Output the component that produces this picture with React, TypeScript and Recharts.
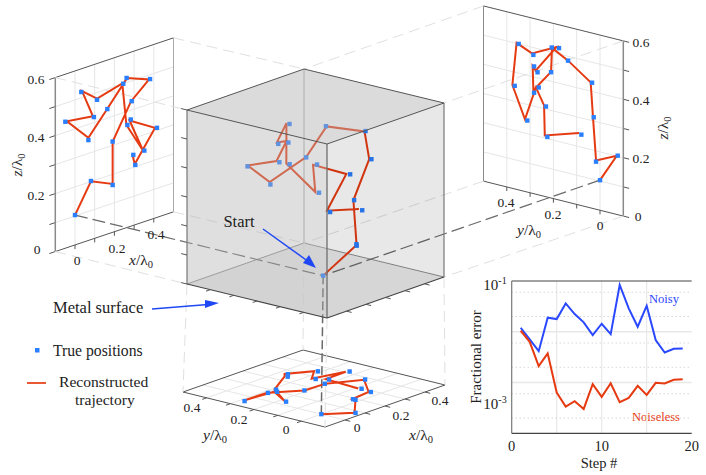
import React from 'react';
import {
  ScatterChart, Scatter, XAxis, YAxis, ReferenceLine,
  LineChart, Line, CartesianGrid,
} from 'recharts';

// positions in units of lambda0, step order
const xTrue = [0, 0.081, 0.191, 0.191, 0.288, 0.381, 0.262, 0.164, 0.068, -0.049, 0.096, 0.032, 0.112, 0.245, 0.266, 0.352, 0.283, 0.416, 0.306, 0.296];
const yTrue = [0, -0.076, 0.017, 0.027, 0.034, 0.137, 0.207, 0.21, 0.283, 0.283, 0.268, 0.176, 0.286, 0.349, 0.366, 0.312, 0.263, 0.232, 0.226, 0.08];
const zTrue = [0.103, 0.202, 0.163, 0.313, 0.43, 0.485, 0.516, 0.431, 0.346, 0.436, 0.419, 0.52, 0.475, 0.5, 0.353, 0.245, 0.368, 0.309, 0.206, 0.243];
const xRec = [0, 0.081, 0.191, 0.191, 0.284, 0.376, 0.264, 0.164, 0.068, -0.041, 0.091, 0.036, 0.112, 0.24, 0.261, 0.345, 0.277, 0.406, 0.303, 0.291];
const yRec = [0, -0.072, 0.017, 0.03, 0.04, 0.137, 0.206, 0.21, 0.286, 0.289, 0.276, 0.187, 0.292, 0.358, 0.376, 0.322, 0.275, 0.24, 0.237, 0.09];
const zRec = [0.103, 0.201, 0.167, 0.312, 0.43, 0.485, 0.515, 0.432, 0.354, 0.436, 0.423, 0.522, 0.479, 0.502, 0.354, 0.247, 0.366, 0.311, 0.209, 0.247];

const steps = [1, 2, 3, 4, 5, 6, 7, 8, 9, 10, 11, 12, 13, 14, 15, 16, 17, 18, 19];
const noisy = [0.012, 0.00706, 0.00415, 0.0189, 0.0178, 0.0362, 0.0223, 0.0153, 0.0086, 0.0144, 0.009, 0.0834, 0.0289, 0.01256, 0.0326, 0.00685, 0.00391, 0.00461, 0.00469];
const noiseless = [0.01047, 0.00635, 0.0021, 0.00373, 0.000635, 0.000336, 0.000428, 0.000302, 0.000927, 0.000521, 0.00097, 0.000409, 0.000498, 0.000859, 0.000571, 0.000985, 0.000955, 0.00113, 0.00116];

const errorData = steps.map((step, i) => ({ step, noisy: noisy[i], noiseless: noiseless[i] }));
const majorDecades = [0.01, 0.001];
const minorDecades = [0.09, 0.08, 0.07, 0.06, 0.05, 0.04, 0.03, 0.02, 0.009, 0.008, 0.007, 0.006, 0.005, 0.004, 0.003, 0.002, 0.0009, 0.0008, 0.0007, 0.0006, 0.0005, 0.0004, 0.0003, 0.0002];

const planeGrid = [0, 0.1, 0.2, 0.3, 0.4];
const heightGrid = [0.1, 0.2, 0.3, 0.4, 0.5];
const LO = -0.1;
const HI = 0.5;
const TOP = 0.6;

const RED = '#e63b12';
const DOT = '#2a7fff';
const SERIF = '"Liberation Serif", serif';

type Pt = { x: number; y: number };

// the four views of the same 3D positions
const leftWall = (x: number, z: number): Pt => {
  const px = 75 + 197 * x;
  return { x: px, y: 252 - 290 * z - 0.336 * (px - 54) };
};
const rightWall = (y: number, z: number): Pt => {
  const px = 600 - 233 * y;
  return { x: px, y: 216 - 292 * z - 0.25 * (623 - px) };
};
const floor = (x: number, y: number): Pt => ({
  x: 325 + ((x + 0.1) / 0.6) * 120 - ((y + 0.1) / 0.6) * 142,
  y: 427 - ((x + 0.1) / 0.6) * 42 - ((y + 0.1) / 0.6) * 35,
});
const cube = (x: number, y: number, z: number): Pt => ({
  x: 327 + ((x + 0.1) / 0.6) * 117 - ((y + 0.1) / 0.6) * 140,
  y: 318 - ((x + 0.1) / 0.6) * 41 - ((y + 0.1) / 0.6) * 34 - (z / 0.6) * 174,
});

const views = [
  { name: 'left', at: (x: number, y: number, z: number) => leftWall(x, z) },
  { name: 'right', at: (x: number, y: number, z: number) => rightWall(y, z) },
  { name: 'floor', at: (x: number, y: number, z: number) => floor(x, y) },
  { name: 'cube', at: cube },
];

type Seg = { a: Pt; b: Pt; stroke: string; w?: number; dash?: string };

const FRAME = '#555';
const AXIS = '#8a8a8a';
const GRID = '#e6e6e6';
const FAINT = '#e0e0e0';
const DARKDASH = '#6a6a6a';
const DASH = '11 6';

function wallSegs(): Seg[] {
  const s: Seg[] = [];
  const add = (a: Pt, b: Pt, stroke: string, w = 1, dash?: string) => s.push({ a, b, stroke, w, dash });

  // left wall
  planeGrid.forEach((v) => {
    add(leftWall(v, 0), leftWall(v, TOP), GRID);
    add(leftWall(v, 0), leftWall(v, -0.014), FRAME);
  });
  heightGrid.forEach((v) => add(leftWall(LO, v), leftWall(HI, v), GRID));
  [0, ...heightGrid, TOP].forEach((v) => add(leftWall(LO, v), leftWall(-0.13, v), FRAME));
  add(leftWall(LO, 0), leftWall(HI, 0), FRAME);
  add(leftWall(LO, TOP), leftWall(HI, TOP), FRAME);
  add(leftWall(LO, 0), leftWall(LO, TOP), AXIS, 1.5);
  add(leftWall(HI, 0), leftWall(HI, TOP), '#aaa');

  // right wall
  planeGrid.forEach((v) => {
    add(rightWall(v, 0), rightWall(v, TOP), GRID);
    add(rightWall(v, 0), rightWall(v, -0.014), FRAME);
  });
  heightGrid.forEach((v) => add(rightWall(LO, v), rightWall(HI, v), GRID));
  [0, ...heightGrid, TOP].forEach((v) => add(rightWall(LO, v), rightWall(-0.125, v), FRAME));
  add(rightWall(LO, 0), rightWall(HI, 0), FRAME);
  add(rightWall(LO, TOP), rightWall(HI, TOP), FRAME);
  add(rightWall(LO, 0), rightWall(LO, TOP), AXIS, 1.5);
  add(rightWall(HI, 0), rightWall(HI, TOP), AXIS);

  // floor
  planeGrid.forEach((v) => {
    add(floor(v, LO), floor(v, HI), GRID);
    add(floor(LO, v), floor(HI, v), GRID);
    add(floor(v, LO), floor(v, -0.122), FRAME);
    add(floor(LO, v), floor(-0.122, v), FRAME);
  });
  add(floor(LO, LO), floor(HI, LO), FRAME);
  add(floor(LO, LO), floor(LO, HI), FRAME);
  add(floor(HI, LO), floor(HI, HI), FRAME);
  add(floor(LO, HI), floor(HI, HI), FRAME);

  // back edges of the box
  add(cube(HI, HI, 0), cube(HI, HI, TOP), '#aaa');
  add(cube(HI, HI, 0), cube(HI, LO, 0), '#8f8f8f');
  add(cube(HI, HI, 0), cube(LO, HI, 0), '#8f8f8f');

  // light guides between the walls, the floor and the box
  add(leftWall(LO, TOP), cube(LO, HI, TOP), FAINT, 1, DASH);
  add(leftWall(LO, 0), cube(LO, HI, 0), FAINT, 1, DASH);
  add(leftWall(HI, TOP), cube(HI, HI, TOP), FAINT, 1, DASH);
  add(leftWall(HI, 0), cube(HI, HI, 0), FAINT, 1, DASH);
  add(rightWall(LO, TOP), cube(HI, LO, TOP), FAINT, 1, DASH);
  add(rightWall(LO, 0), cube(HI, LO, 0), FAINT, 1, DASH);
  add(rightWall(HI, TOP), cube(HI, HI, TOP), FAINT, 1, DASH);
  add(rightWall(HI, 0), cube(HI, HI, 0), FAINT, 1, DASH);
  add(cube(LO, HI, 0), floor(LO, HI), FAINT, 1, DASH);
  add(cube(HI, LO, 0), floor(HI, LO), FAINT, 1, DASH);
  add(cube(LO, LO, 0), floor(LO, LO), FAINT, 1, DASH);
  add(cube(HI, HI, 0), floor(HI, HI), FAINT, 1, DASH);

  // dark guides from the start position
  const start = cube(xTrue[0], yTrue[0], zTrue[0]);
  add(leftWall(xTrue[0], zTrue[0]), start, DARKDASH, 1.2, '13 5');
  add(rightWall(yTrue[0], zTrue[0]), start, DARKDASH, 1.2, '13 5');
  add(floor(xTrue[0], yTrue[0]), start, DARKDASH, 1.5, '9 4');
  return s;
}

function boxFrontSegs(): Seg[] {
  const s: Seg[] = [];
  const add = (a: Pt, b: Pt, stroke = FRAME, w = 1) => s.push({ a, b, stroke, w });
  add(cube(LO, LO, 0), cube(LO, LO, TOP), '#6e6e6e', 1.3);
  add(cube(LO, HI, 0), cube(LO, HI, TOP), '#777', 1.2);
  add(cube(HI, LO, 0), cube(HI, LO, TOP), '#777', 1.2);
  add(cube(LO, LO, 0), cube(HI, LO, 0), '#444', 1.2);
  add(cube(LO, LO, 0), cube(LO, HI, 0), '#444', 1.2);
  add(cube(LO, LO, TOP), cube(HI, LO, TOP));
  add(cube(LO, LO, TOP), cube(LO, HI, TOP));
  add(cube(HI, HI, TOP), cube(HI, LO, TOP));
  add(cube(HI, HI, TOP), cube(LO, HI, TOP));
  planeGrid.forEach((v) => {
    add(cube(v, LO, 0), cube(v, -0.122, 0));
    add(cube(LO, v, 0), cube(-0.122, v, 0));
  });
  heightGrid.forEach((v) => add(cube(LO, HI, v), cube(LO, 0.525, v)));
  add(cube(LO, HI, TOP), cube(LO, 0.525, TOP));
  add(cube(LO, HI, 0), cube(LO, 0.525, 0));
  return s;
}

const pts = (pp: Pt[]) => pp.map((p) => `${p.x},${p.y}`).join(' ');

const layer: React.CSSProperties = { position: 'absolute', left: 0, top: 0 };

function Txt({ x, y, size = 13, anchor = 'middle', color = '#222', children, rot }: any) {
  return (
    <text
      x={x}
      y={y}
      fontSize={size}
      fontFamily={SERIF}
      textAnchor={anchor}
      fill={color}
      transform={rot ? `rotate(${rot} ${x} ${y})` : undefined}
    >
      {children}
    </text>
  );
}

function Unit({ x, y, v, rot }: { x: number; y: number; v: string; rot?: number }) {
  return (
    <Txt x={x} y={y} size={15.5} rot={rot}>
      <tspan fontStyle="italic">{v}</tspan>/λ<tspan fontSize={10.5} dy={2.5}>0</tspan>
    </Txt>
  );
}

function ErrorTick({ y, payload }: any) {
  const shift = payload.value > 0.05 ? 9 : 26;
  const exp = payload.value > 0.05 ? '-1' : '-3';
  return (
    <text x={36.7} y={y + shift} textAnchor="end" fontSize={15} fontFamily={SERIF} fill="#222">
      10<tspan fontSize={10} dy={-6}>{exp}</tspan>
    </text>
  );
}

const Square = ({ cx, cy }: any) => <rect x={cx - 2.2} y={cy - 2.2} width={4.4} height={4.4} fill={DOT} />;

function Views() {
  return (
    <ScatterChart width={706} height={475} margin={{ top: 0, right: 0, bottom: 0, left: 0 }} style={layer}>
      <XAxis type="number" dataKey="x" domain={[0, 706]} hide />
      <YAxis type="number" dataKey="y" domain={[0, 475]} reversed hide />
      {wallSegs().map((s, i) => (
        <ReferenceLine
          key={i}
          segment={[s.a, s.b]}
          stroke={s.stroke}
          strokeWidth={s.w}
          strokeDasharray={s.dash}
          ifOverflow="visible"
        />
      ))}
      {views.map((v) => (
        <Scatter
          key={v.name + '-rec'}
          data={xRec.map((x, i) => v.at(x, yRec[i], zRec[i]))}
          line={{ stroke: RED, strokeWidth: 2 }}
          shape={() => null}
          isAnimationActive={false}
        />
      ))}
      {views.map((v) => (
        <Scatter
          key={v.name + '-true'}
          data={xTrue.map((x, i) => v.at(x, yTrue[i], zTrue[i]))}
          fill={DOT}
          shape={<Square />}
          isAnimationActive={false}
        />
      ))}
    </ScatterChart>
  );
}

function ErrorChart() {
  return (
    <LineChart
      width={230}
      height={200}
      data={errorData}
      margin={{ top: 11, right: 8.3, bottom: 0, left: 0 }}
      style={{ position: 'absolute', left: 470, top: 270 }}
    >
      <CartesianGrid horizontal={false} vertical stroke="#e4e4e4" verticalValues={[5, 10, 15]} />
      <CartesianGrid vertical={false} stroke="#e8e8e8" strokeWidth={1.5} horizontalValues={majorDecades} />
      <CartesianGrid vertical={false} stroke="#c4c4c4" strokeDasharray="1 3" horizontalValues={minorDecades} />
      <XAxis
        type="number"
        dataKey="step"
        domain={[0, 20]}
        ticks={[0, 10, 20]}
        height={36.7}
        tickLine={false}
        axisLine={{ stroke: '#444', strokeWidth: 1.2 }}
        tick={{ fontSize: 14.5, fontFamily: SERIF, fill: '#222' }}
        tickMargin={1}
      />
      <YAxis
        scale="log"
        domain={[0.0001, 0.1]}
        ticks={[0.1, 0.001]}
        allowDataOverflow
        width={41.7}
        tickLine={false}
        axisLine={{ stroke: '#777', strokeWidth: 1.2 }}
        tick={<ErrorTick />}
      />
      <ReferenceLine y={0.1} stroke="#444" />
      <Line dataKey="noisy" stroke="#2a48ff" strokeWidth={2} dot={false} isAnimationActive={false} />
      <Line dataKey="noiseless" stroke={RED} strokeWidth={2} dot={false} isAnimationActive={false} />
    </LineChart>
  );
}

export default function App() {
  const arrowBlue = '#1f48f5';
  return (
    <div style={{ ...layer, width: 706, height: 475, background: '#fff', overflow: 'hidden' }}>
      <svg width={706} height={475} style={layer}>
        <polygon points={pts([cube(LO, LO, 0), cube(HI, LO, 0), cube(HI, HI, 0), cube(LO, HI, 0)])} fill="#ececec" />
      </svg>
      <Views />
      <svg width={706} height={475} style={{ ...layer, pointerEvents: 'none' }}>
        <polygon points={pts([cube(LO, LO, 0), cube(LO, HI, 0), cube(LO, HI, TOP), cube(LO, LO, TOP)])} fill="rgba(175,175,175,0.4)" />
        <polygon points={pts([cube(LO, LO, 0), cube(HI, LO, 0), cube(HI, LO, TOP), cube(LO, LO, TOP)])} fill="rgba(0,0,0,0.09)" />
        <polygon points={pts([cube(LO, LO, TOP), cube(HI, LO, TOP), cube(HI, HI, TOP), cube(LO, HI, TOP)])} fill="rgba(175,175,175,0.45)" />
        {boxFrontSegs().map((s, i) => (
          <line key={i} x1={s.a.x} y1={s.a.y} x2={s.b.x} y2={s.b.y} stroke={s.stroke} strokeWidth={s.w} />
        ))}

        {/* arrows */}
        <line x1={263} y1={229} x2={309} y2={262} stroke={arrowBlue} strokeWidth={1.5} />
        <polygon points="316,268 303,263 309,255" fill={arrowBlue} />
        <line x1={152} y1={309} x2={208} y2={304.5} stroke={arrowBlue} strokeWidth={1.5} />
        <polygon points="219,303 205,308 205,300" fill={arrowBlue} />

        <Txt x={239} y={227} size={16.5}>Start</Txt>
        <Txt x={53} y={313} size={16.5} anchor="start">Metal surface</Txt>
        <rect x={35} y={348} width={4.5} height={4.5} fill={DOT} />
        <Txt x={53} y={356} size={15.7} anchor="start">True positions</Txt>
        <line x1={27} y1={383} x2={46} y2={383} stroke={RED} strokeWidth={1.7} />
        <Txt x={59} y={387} size={15.6} anchor="start">Reconstructed</Txt>
        <Txt x={75} y={405} size={15.6} anchor="start">trajectory</Txt>

        {/* left wall labels */}
        <Txt x={36} y={84} size={13.5}>0.6</Txt>
        <Txt x={36} y={142} size={13.5}>0.4</Txt>
        <Txt x={36} y={200} size={13.5}>0.2</Txt>
        <Txt x={37} y={254} size={13.5}>0</Txt>
        <Txt x={77} y={265} size={13.5}>0</Txt>
        <Txt x={117} y={253} size={13.5}>0.2</Txt>
        <Txt x={156} y={239} size={13.5}>0.4</Txt>
        <Unit x={141} y={265} v="x" />
        <Unit x={22} y={165} v="z" rot={-90} />

        {/* right wall labels */}
        <Txt x={641} y={47} size={13.5}>0.6</Txt>
        <Txt x={641} y={105} size={13.5}>0.4</Txt>
        <Txt x={641} y={163} size={13.5}>0.2</Txt>
        <Txt x={638} y={221} size={13.5}>0</Txt>
        <Txt x={506} y={207} size={13.5}>0.4</Txt>
        <Txt x={553} y={219} size={13.5}>0.2</Txt>
        <Txt x={600} y={230} size={13.5}>0</Txt>
        <Unit x={529} y={235} v="y" />
        <Unit x={668} y={128} v="z" rot={-90} />

        {/* floor labels */}
        <Txt x={192} y={412} size={13.5}>0.4</Txt>
        <Txt x={239} y={424} size={13.5}>0.2</Txt>
        <Txt x={286} y={434} size={13.5}>0</Txt>
        <Unit x={215} y={440} v="y" />
        <Txt x={357} y={432} size={13.5}>0</Txt>
        <Txt x={401} y={420} size={13.5}>0.2</Txt>
        <Txt x={440} y={405} size={13.5}>0.4</Txt>
        <Unit x={421} y={440} v="x" />

        {/* error panel labels */}
        <Txt x={481} y={357} size={15} rot={-90}>Fractional error</Txt>
        <Txt x={599} y={468} size={14.5}>Step #</Txt>
        <Txt x={664} y={303} size={12.5} color="#2a48ff">Noisy</Txt>
        <Txt x={656} y={421} size={12.5} color={RED}>Noiseless</Txt>
      </svg>
      <ErrorChart />
    </div>
  );
}
